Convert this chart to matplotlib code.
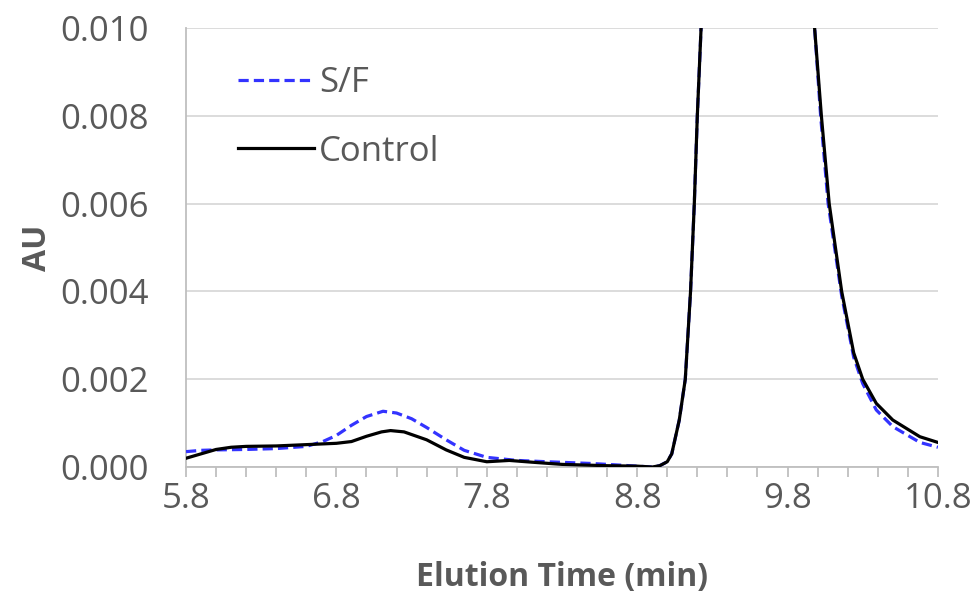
import matplotlib.pyplot as plt
from matplotlib.ticker import MultipleLocator

# DATA
control_t = [5.8, 5.9, 6.0, 6.1, 6.2, 6.4, 6.6, 6.8, 6.9, 7.0, 7.1, 7.16, 7.25, 7.4,
             7.53, 7.65, 7.8, 7.95, 8.1, 8.3, 8.6, 8.8, 8.9, 8.95, 9.0, 9.03, 9.08,
             9.12, 9.155, 9.18, 9.2, 9.225, 9.3, 9.6, 9.9, 9.98, 10.025, 10.077,
             10.16, 10.24, 10.3, 10.39, 10.5, 10.68, 10.8]
control_au = [0.0002, 0.0003, 0.0004, 0.00045, 0.00047, 0.00048, 0.00051, 0.00054,
              0.00058, 0.0007, 0.0008, 0.00083, 0.0008, 0.00062, 0.00039, 0.00022,
              0.00012, 0.00015, 0.00011, 0.00006, 0.00003, 0.00002, 0.0, 0.00003,
              0.00012, 0.0003, 0.00107, 0.002, 0.004, 0.006, 0.008, 0.01, 0.02,
              0.04, 0.02, 0.01, 0.008, 0.006, 0.004, 0.0026, 0.002, 0.00145,
              0.00107, 0.00069, 0.00056]

sf_t = [5.8, 5.9, 6.0, 6.2, 6.4, 6.6, 6.71, 6.8, 6.9, 7.0, 7.11, 7.2, 7.3, 7.4, 7.53,
        7.65, 7.8, 8.0, 8.2, 8.5, 8.75, 8.9, 8.95, 9.0, 9.03, 9.08, 9.12, 9.155,
        9.18, 9.2, 9.225, 9.3, 9.6, 9.9, 9.98, 10.02, 10.07, 10.16, 10.24, 10.3,
        10.39, 10.5, 10.68, 10.8]
sf_au = [0.00035, 0.00038, 0.00039, 0.0004, 0.00042, 0.00047, 0.00058, 0.00072,
         0.00095, 0.00115, 0.00127, 0.00123, 0.0011, 0.0009, 0.00062, 0.00038,
         0.00022, 0.00015, 0.00012, 0.00008, 0.00003, 0.0, 0.00003, 0.00012,
         0.0003, 0.00107, 0.002, 0.004, 0.006, 0.008, 0.01, 0.02, 0.04, 0.02,
         0.01, 0.008, 0.006, 0.0039, 0.0025, 0.0019, 0.0013, 0.00092, 0.00056,
         0.00045]

plt.rcParams['font.family'] = ['Open Sans', 'DejaVu Sans']
GRAY = '#595959'

fig = plt.figure(figsize=(9.77, 5.95), dpi=100)
ax = fig.add_axes([0.1904, 0.2151, 0.7696, 0.7378])

ax.plot(sf_t, sf_au, color='#3333ff', linestyle=(0, (3.2, 1.6)), linewidth=2.3,
        label='S/F', zorder=3, solid_joinstyle='round')
ax.plot(control_t, control_au, color='black', linewidth=2.3, label='Control', zorder=4,
        solid_joinstyle='round')

ax.set_xlim(5.8, 10.8)
ax.set_ylim(0, 0.010)
ax.set_xticks([5.8, 6.8, 7.8, 8.8, 9.8, 10.8])
ax.xaxis.set_minor_locator(MultipleLocator(0.2))
ax.set_yticks([0, 0.002, 0.004, 0.006, 0.008, 0.010])
ax.set_yticklabels(['0.000', '0.002', '0.004', '0.006', '0.008', '0.010'])

ax.grid(axis='y', color='#d9d9d9', linewidth=1.3)
ax.set_axisbelow(True)
for side in ['top', 'right']:
    ax.spines[side].set_visible(False)
for side in ['left', 'bottom']:
    ax.spines[side].set_color('#bfbfbf')
    ax.spines[side].set_linewidth(1.3)

ax.tick_params(axis='x', which='both', direction='out', color='#bfbfbf',
               width=1.3, length=7, labelsize=25, labelcolor=GRAY, pad=4)
ax.tick_params(axis='y', length=0, labelsize=25, labelcolor=GRAY, pad=27)

ax.set_xlabel('Elution Time (min)', fontsize=23, fontweight='bold', color=GRAY, labelpad=32)
ax.set_ylabel('AU', fontsize=23, fontweight='bold', color=GRAY, labelpad=4)

ax.legend(loc='upper left', bbox_to_anchor=(0.027, 0.985), frameon=False, fontsize=25,
          labelcolor=GRAY, handlelength=2.2, handletextpad=0.15, labelspacing=1.0)

fig.savefig('out.png', dpi=100)
